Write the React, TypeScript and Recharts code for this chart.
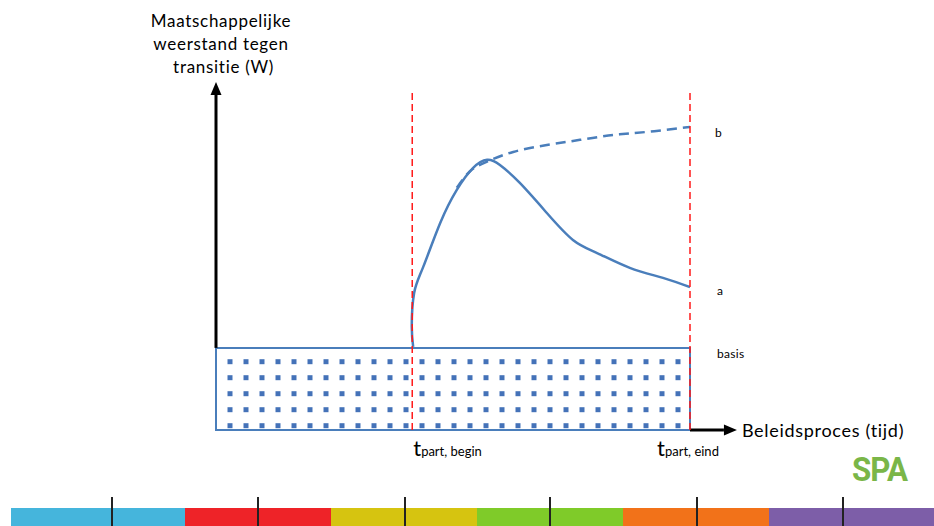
import React from 'react'
import { ComposedChart, Line, XAxis, YAxis, ReferenceLine, ReferenceArea } from 'recharts'

// time runs 0..10 (t_part,eind = 10), resistance W runs 0..10
const T_BEGIN = 4.14
const T_EIND = 10
const BASIS_LEVEL = 2.38
const Y_ARROW_TOP = 10.09
const X_ARROW_END = 10.99
const RED_TOP = 9.8

const TICK_SUBS = ['part, begin', 'part, eind']

// curve a: resistance rises after participation starts, then falls back
const SERIES_A = [
  { x: 4.16, y: 2.41 },
  { x: 4.13, y: 3.0 },
  { x: 4.18, y: 3.97 },
  { x: 4.37, y: 4.72 },
  { x: 4.73, y: 6.0 },
  { x: 5.08, y: 6.96 },
  { x: 5.42, y: 7.59 },
  { x: 5.72, y: 7.83 },
  { x: 5.99, y: 7.68 },
  { x: 6.41, y: 7.16 },
  { x: 6.98, y: 6.29 },
  { x: 7.53, y: 5.51 },
  { x: 8.04, y: 5.13 },
  { x: 8.73, y: 4.7 },
  { x: 9.43, y: 4.41 },
  { x: 10.0, y: 4.14 },
]

// curve b: resistance keeps growing
const SERIES_B = [
  { x: 5.08, y: 7.02 },
  { x: 5.36, y: 7.5 },
  { x: 5.72, y: 7.78 },
  { x: 6.27, y: 8.06 },
  { x: 6.98, y: 8.26 },
  { x: 7.68, y: 8.41 },
  { x: 8.38, y: 8.55 },
  { x: 9.09, y: 8.64 },
  { x: 9.79, y: 8.75 },
  { x: 10.0, y: 8.78 },
]

const BAR_COLORS = ['#45b5dc', '#ee2328', '#d6c410', '#7fcb29', '#f27219', '#7d5ea8']
const BAR_EDGES = [11, 185, 331, 477, 623, 769, 934]
const BAR_TICKS = [111, 257, 404, 549, 696, 842]

const FONT = 'Lato, "Open Sans", sans-serif'
const BLUE = '#4a7ebb'

const ArrowShape = (props: any) => {
  const { x1, y1, x2, y2 } = props
  const ang = Math.atan2(y2 - y1, x2 - x1)
  const len = 13
  const half = 5.5
  const bx = x2 - len * Math.cos(ang)
  const by = y2 - len * Math.sin(ang)
  const px = -Math.sin(ang) * half
  const py = Math.cos(ang) * half
  return (
    <g>
      <line x1={x1} y1={y1} x2={bx} y2={by} stroke="#000" strokeWidth={3} />
      <polygon points={`${x2},${y2} ${bx + px},${by + py} ${bx - px},${by - py}`} fill="#000" />
    </g>
  )
}

const TimeTick = ({ x, y, index }: any) => {
  const first = index === 0
  return (
    <text x={x + (first ? 1 : -2)} y={y + 26} textAnchor={first ? 'start' : 'middle'} fontFamily={FONT} fill="#000">
      <tspan fontSize={22}>t</tspan>
      <tspan fontSize={13}>{TICK_SUBS[index]}</tspan>
    </text>
  )
}

const endLabel = (text: string, dx: number, dy: number, last: number) => (p: any) => {
  if (p.index !== last) return <g />
  return (
    <text x={p.x + dx} y={p.y + dy} fontSize={12} fontFamily={FONT} fill="#000">{text}</text>
  )
}

export default function App() {
  return (
    <div style={{ position: 'absolute', left: 0, top: 0, width: 934, height: 526, background: '#fff', fontFamily: FONT }}>
      <div style={{ position: 'absolute', left: 121, top: 9, width: 200, textAlign: 'center', fontSize: 17, letterSpacing: 0.7, lineHeight: '23px', color: '#000' }}>
        Maatschappelijke<br />weerstand tegen<br />&nbsp;transitie (W)
      </div>

      <ComposedChart width={934} height={526} margin={{ top: 85, right: 244, bottom: 66, left: 216 }}>
        <defs>
          <pattern id="dots" patternUnits="userSpaceOnUse" x={227.5} y={359.2} width={16} height={16}>
            <rect x={0} y={0} width={16} height={16} fill="#fff" />
            <rect x={0} y={0} width={5} height={5} fill="#4472b8" />
          </pattern>
        </defs>
        <XAxis
          dataKey="x"
          type="number"
          domain={[0, 10]}
          ticks={[T_BEGIN, T_EIND]}
          interval={0}
          tick={<TimeTick />}
          axisLine={false}
          tickLine={false}
          tickSize={0}
          tickMargin={0}
          height={30}
          allowDataOverflow
        />
        <YAxis type="number" domain={[0, 10]} hide allowDataOverflow />

        <ReferenceArea
          x1={0}
          x2={T_EIND}
          y1={0}
          y2={BASIS_LEVEL}
          fill="url(#dots)"
          fillOpacity={1}
          stroke={BLUE}
          strokeWidth={2}
          label={{
            content: (p: any) => (
              <text x={p.viewBox.x + p.viewBox.width + 27} y={p.viewBox.y + 10} fontSize={12} letterSpacing={0.3} fontFamily={FONT} fill="#000">basis</text>
            ),
          }}
        />

        {/* axes arrows: the basis block sits in front of them */}
        <ReferenceLine
          segment={[{ x: 0, y: BASIS_LEVEL }, { x: 0, y: Y_ARROW_TOP }]}
          ifOverflow="visible"
          shape={<ArrowShape />}
        />
        <ReferenceLine
          segment={[{ x: T_EIND, y: 0 }, { x: X_ARROW_END, y: 0 }]}
          ifOverflow="visible"
          shape={<ArrowShape />}
          label={{
            content: (p: any) => (
              <text x={p.viewBox.x + p.viewBox.width + 5} y={p.viewBox.y + 7} fontSize={18} letterSpacing={0.7} fontFamily={FONT} fill="#000">Beleidsproces (tijd)</text>
            ),
          }}
        />

        <Line
          data={SERIES_B}
          dataKey="y"
          type="natural"
          stroke={BLUE}
          strokeWidth={2.5}
          strokeDasharray="10 6"
          dot={false}
          isAnimationActive={false}
          label={endLabel('b', 25, 10, SERIES_B.length - 1)}
        />
        <Line
          data={SERIES_A}
          dataKey="y"
          type="natural"
          stroke={BLUE}
          strokeWidth={2.5}
          dot={false}
          isAnimationActive={false}
          label={endLabel('a', 27, 8, SERIES_A.length - 1)}
        />

        <ReferenceLine
          segment={[{ x: T_BEGIN, y: 0 }, { x: T_BEGIN, y: RED_TOP }]}
          stroke="#ff1a1a"
          strokeWidth={1.5}
          strokeDasharray="7 4"
          ifOverflow="visible"
        />
        <ReferenceLine
          segment={[{ x: T_EIND, y: 0 }, { x: T_EIND, y: RED_TOP }]}
          stroke="#ff1a1a"
          strokeWidth={1.5}
          strokeDasharray="7 4"
          ifOverflow="visible"
        />
      </ComposedChart>

      <div style={{ position: 'absolute', left: 852, top: 449, fontSize: 34, fontWeight: 700, color: '#7ab648', fontFamily: 'Roboto, sans-serif', letterSpacing: -1, transform: 'scaleX(0.92)', transformOrigin: 'left' }}>
        SPA
      </div>

      {BAR_COLORS.map((c, i) => (
        <div key={c} style={{ position: 'absolute', left: BAR_EDGES[i], top: 508, width: BAR_EDGES[i + 1] - BAR_EDGES[i], height: 18, background: c }} />
      ))}
      {BAR_TICKS.map((x) => (
        <div key={x} style={{ position: 'absolute', left: x, top: 497, width: 1.5, height: 29, background: '#222' }} />
      ))}
    </div>
  )
}
